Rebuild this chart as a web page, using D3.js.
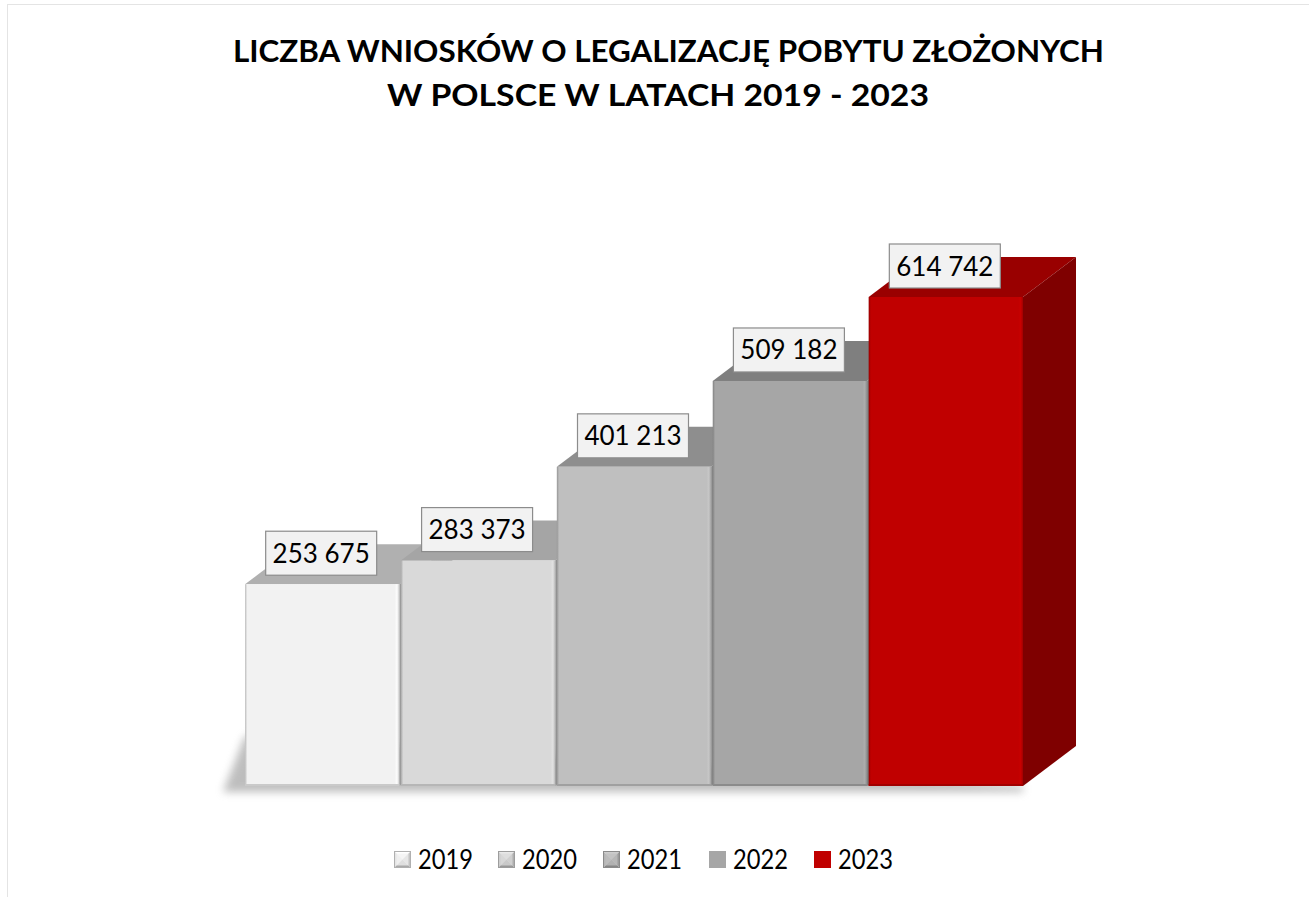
<!DOCTYPE html>
<html>
<head>
<meta charset="utf-8">
<script src="https://cdn.jsdelivr.net/npm/d3@7"></script>
<style>
  body { margin: 0; background: #fff; }
  svg { display: block; }
</style>
</head>
<body>
<div id="chart"></div>
<script>
// values
const years = ["2019", "2020", "2021", "2022", "2023"];
const values = [253675, 283373, 401213, 509182, 614742];
const titleLines = ["LICZBA WNIOSKÓW O LEGALIZACJĘ POBYTU ZŁOŻONYCH", "W POLSCE W LATACH 2019 - 2023"];

const frontColors = ["#f2f2f2", "#d9d9d9", "#bfbfbf", "#a6a6a6", "#c00000"];
const topColors = ["#b0b0b0", "#a5a5a5", "#8e8e8e", "#7f7f7f", "#990000"];
const sideColors = ["#9a9a9a", "#909090", "#858585", "#7a7a7a", "#7f0000"];

const W = 1309, H = 897;
const depthX = 53, depthY = -40;

const fmt = d3.formatLocale({ thousands: " ", grouping: [3], decimal: ",", currency: ["", ""] }).format(",d");

const svg = d3.select("#chart").append("svg")
    .attr("width", W).attr("height", H)
    .style("font-family", "Lato, 'Open Sans', sans-serif");

const defs = svg.append("defs");
defs.append("filter").attr("id", "blur")
    .attr("x", "-10%").attr("y", "-50%").attr("width", "120%").attr("height", "200%")
    .append("feGaussianBlur").attr("stdDeviation", 4);

// faint outer border
svg.append("rect")
    .attr("x", 7.5).attr("y", 4.5).attr("width", W).attr("height", H)
    .attr("fill", "none").attr("stroke", "#e4e4e4").attr("stroke-width", 1);

// title, squeezed into the width it takes in the picture (Calibri is narrower than Lato)
const titleSpans = [[233, 1104, 62], [387, 929, 106]];
titleLines.forEach((t, i) => {
    const [x1, x2, yb] = titleSpans[i];
    svg.append("text")
        .attr("x", x1).attr("y", yb)
        .attr("textLength", x2 - x1).attr("lengthAdjust", "spacingAndGlyphs")
        .style("font-weight", "bold").style("font-size", "31px")
        .attr("fill", "#000").text(t);
});

const x = d3.scaleBand().domain(years).range([245, 1023]).paddingInner(0.01).paddingOuter(0);
const y = d3.scaleLinear().domain([0, 700000]).range([786, 786 - 700000 * 489 / 614742]);
const bw = x.bandwidth();
const y0 = y(0);

// gradients for the slight bevel on the front faces
years.forEach((yr, i) => {
    const c = d3.color(frontColors[i]);
    const g = defs.append("linearGradient").attr("id", "front" + i)
        .attr("x1", "0").attr("x2", "1").attr("y1", "0").attr("y2", "0");
    g.append("stop").attr("offset", "0").attr("stop-color", c.darker(0.7));
    g.append("stop").attr("offset", "0.015").attr("stop-color", c);
    g.append("stop").attr("offset", "0.97").attr("stop-color", c);
    g.append("stop").attr("offset", "0.985").attr("stop-color", c.brighter(0.12));
    g.append("stop").attr("offset", "1").attr("stop-color", c.darker(0.5));
});

// floor shadow
svg.append("path")
    .attr("d", `M${x(years[0])},${y0 - 50} L${x(years[0]) - 22},${y0 + 6} L${x(years[4]) + bw},${y0 + 6} L${x(years[4]) + bw},${y0} Z`)
    .attr("fill", "#888").attr("opacity", 0.55)
    .attr("filter", "url(#blur)");

const bars = svg.append("g");
years.forEach((yr, i) => {
    const x0 = x(yr), x1 = x0 + bw, yt = y(values[i]);
    const g = bars.append("g");
    // top face
    g.append("path")
        .attr("d", `M${x0},${yt} L${x0 + depthX},${yt + depthY} L${x1 + depthX},${yt + depthY} L${x1},${yt} Z`)
        .attr("fill", topColors[i]);
    // right side face
    g.append("path")
        .attr("d", `M${x1},${yt} L${x1 + depthX},${yt + depthY} L${x1 + depthX},${y0 + depthY} L${x1},${y0} Z`)
        .attr("fill", sideColors[i]);
    // front face
    g.append("rect")
        .attr("x", x0).attr("y", yt).attr("width", bw).attr("height", y0 - yt)
        .attr("fill", `url(#front${i})`);
    // bottom edge line
    g.append("rect")
        .attr("x", x0).attr("y", y0 - 2).attr("width", bw).attr("height", 2)
        .attr("fill", d3.color(frontColors[i]).darker(0.5));
});

// value labels
const lw = 111, lh = 44;
years.forEach((yr, i) => {
    const cx = x(yr) + bw / 2 - 1, cy = y(values[i]) - 31;
    svg.append("rect")
        .attr("x", cx - lw / 2).attr("y", cy - lh / 2).attr("width", lw).attr("height", lh)
        .attr("fill", "#f2f2f2").attr("stroke", "#8c8c8c").attr("stroke-width", 1.2);
    svg.append("text")
        .attr("x", cx).attr("y", cy + 9.5)
        .attr("text-anchor", "middle")
        .style("font-size", "26px").attr("fill", "#000")
        .text(fmt(values[i]));
});

// legend
const legendX = [394, 498, 603, 709, 814];
const sq = 17;
const legend = svg.append("g");
years.forEach((yr, i) => {
    const lx = legendX[i], ly = 851;
    const g = legend.append("g").attr("transform", `translate(${lx},${ly})`);
    if (i < 3) {
        const c = d3.color(frontColors[i]);
        const tri = [
            [`M0,0 L${sq},0 L${sq / 2},${sq / 2} Z`, c.brighter(0.2)],
            [`M0,0 L${sq / 2},${sq / 2} L0,${sq} Z`, c.darker(0.15)],
            [`M${sq},0 L${sq},${sq} L${sq / 2},${sq / 2} Z`, c.darker(0.6)],
            [`M0,${sq} L${sq / 2},${sq / 2} L${sq},${sq} Z`, c.darker(1.0)]
        ];
        tri.forEach(([d, f]) => g.append("path").attr("d", d).attr("fill", f));
        g.append("rect").attr("x", 2.5).attr("y", 2.5).attr("width", sq - 5).attr("height", sq - 5)
            .attr("fill", c).attr("opacity", 0.75);
        g.append("rect").attr("x", 0.5).attr("y", 0.5).attr("width", sq - 1).attr("height", sq - 1)
            .attr("fill", "none").attr("stroke", c.darker(0.9)).attr("stroke-width", 1);
    } else {
        g.append("rect").attr("width", sq).attr("height", sq).attr("fill", frontColors[i]);
    }
    legend.append("text")
        .attr("x", lx + 24).attr("y", 869)
        .attr("textLength", 55).attr("lengthAdjust", "spacingAndGlyphs")
        .style("font-size", "27px").attr("fill", "#000")
        .text(yr);
});
</script>
</body>
</html>
